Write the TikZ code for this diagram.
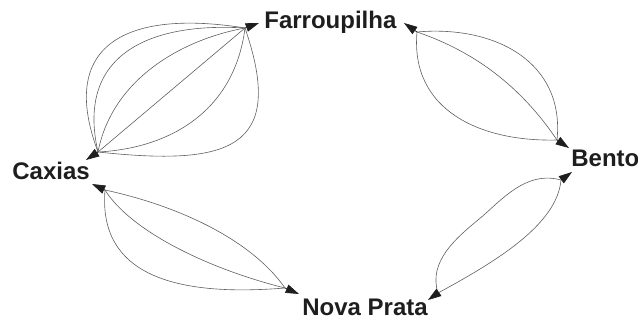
\documentclass[tikz,border=0pt]{standalone}
\usepackage{fontspec}
\setmainfont{Liberation Sans}
\usetikzlibrary{arrows.meta}
\definecolor{edgegray}{RGB}{95,95,95}
\definecolor{labelink}{RGB}{30,30,30}
\tikzset{every picture/.style={line width=0.5pt}}
\tikzset{
  city/.style={anchor=base west,inner sep=0pt,font=\fontsize{18}{20}\selectfont\bfseries,color=labelink},
  route/.style={draw=edgegray,line width=0.45pt},
  headarrow/.style={draw=labelink,fill=labelink,-{Triangle[length=10pt,width=6.5pt]}}
}
\begin{document}
\begin{tikzpicture}[x=0.75pt,y=0.75pt,yscale=-1,xscale=1]
\useasboundingbox (0,0) rectangle (638,320);

% Text Node
\node[city] (farroupilha) at (264,29) {Farroupilha};
% Text Node
\node[city] (caxias) at (12,180) {Caxias};
% Text Node
\node[city] (bento) at (571,167) {Bento};
% Text Node
\node[city] (novaprata) at (302,315) {Nova Prata};

%Route ends
\coordinate (cax-f) at (98,152);
\coordinate (cax-f-tip) at (86,160);
\coordinate (cax-n) at (105,190);
\coordinate (cax-n-tip) at (92,184);
\coordinate (far-c) at (245,28);
\coordinate (far-c-tip) at (259,23);
\coordinate (far-b) at (417,32);
\coordinate (far-b-tip) at (404,23);
\coordinate (ben-f) at (557,140);
\coordinate (ben-f-tip) at (569,148);
\coordinate (ben-n) at (561,180);
\coordinate (ben-n-tip) at (572,172);
\coordinate (nov-c) at (285,288);
\coordinate (nov-c-tip) at (299,294);
\coordinate (nov-b) at (438,293);
\coordinate (nov-b-tip) at (428,300);
\coordinate (bend-s) at (478,220);

%Curve Lines Caxias - Farroupilha
\draw[route] (cax-f) .. controls +(-42,-112) and +(-112,-18) .. (far-c) ;
\draw[route] (cax-f) .. controls +(-22,-96) and +(-98,-6) .. (far-c) ;
\draw[route] (cax-f) .. controls +(14,-72) and +(-65,12) .. (far-c) ;
\draw[route] (cax-f) -- (far-c) ;
\draw[route] (cax-f) .. controls +(76,-4) and +(-10,80) .. (far-c) ;
\draw[route] (cax-f) .. controls +(130,14) and +(42,122) .. (far-c) ;

%Curve Lines Farroupilha - Bento
\draw[route] (far-b) .. controls +(78,-7) and +(8,-78) .. (ben-f) ;
\draw[route] (far-b) .. controls +(59,20) and +(-35,-52) .. (ben-f) ;
\draw[route] (far-b) .. controls +(-7,78) and +(-77,2) .. (ben-f) ;

%Curve Lines Caxias - Nova Prata
\draw[route] (cax-n) .. controls +(70,15) and +(-35,-50) .. (nov-c) ;
\draw[route] (cax-n) .. controls +(25,40) and +(-80,-20) .. (nov-c) ;
\draw[route] (cax-n) .. controls +(-7,85) and +(-110,9) .. (nov-c) ;

%Curve Lines Bento - Nova Prata
\draw[route] (ben-n) .. controls +(-36,-10) and +(22,-18) .. (bend-s) .. controls +(-22,18) and +(-10,-31) .. (nov-b) ;
\draw[route] (ben-n) .. controls +(-4,45) and +(57,-31) .. (nov-b) ;

%Arrow heads
\draw[headarrow] (cax-f) -- (cax-f-tip) ;
\draw[headarrow] (far-c) -- (far-c-tip) ;
\draw[headarrow] (far-b) -- (far-b-tip) ;
\draw[headarrow] (ben-f) -- (ben-f-tip) ;
\draw[headarrow] (ben-n) -- (ben-n-tip) ;
\draw[headarrow] (nov-b) -- (nov-b-tip) ;
\draw[headarrow] (nov-c) -- (nov-c-tip) ;
\draw[headarrow] (cax-n) -- (cax-n-tip) ;

\end{tikzpicture}
\end{document}
